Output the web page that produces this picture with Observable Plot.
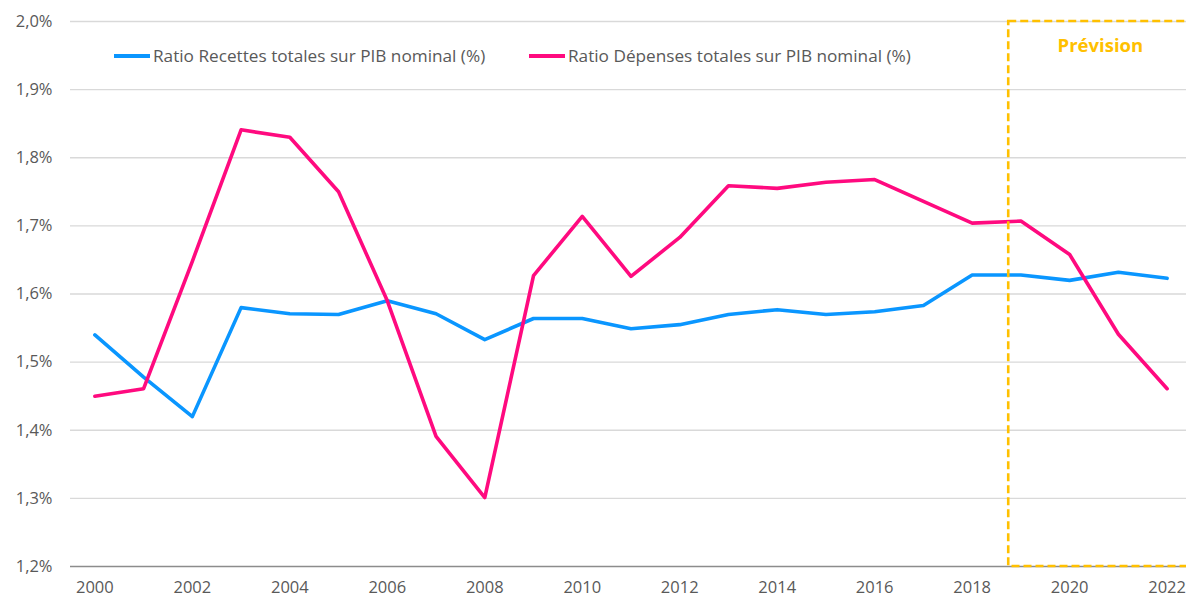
<!DOCTYPE html>
<html>
<head>
<meta charset="utf-8">
<script src="https://cdn.jsdelivr.net/npm/d3@7"></script>
<script src="https://cdn.jsdelivr.net/npm/@observablehq/plot@0.6"></script>
<style>
  html, body { margin: 0; padding: 0; background: #fff; overflow: hidden; }
  #wrap { position: relative; width: 1186px; height: 599px; overflow: hidden; }
  .leg { position: absolute; top: 44px; font-family: "Open Sans", sans-serif; font-size: 17.2px; color: #595959; display: flex; align-items: center; white-space: nowrap; }
  .leg span.sw { display: inline-block; width: 36px; height: 4px; margin-right: 3px; }
</style>
</head>
<body>
<div id="wrap"></div>
<script>
const years = [2000,2001,2002,2003,2004,2005,2006,2007,2008,2009,2010,2011,2012,2013,2014,2015,2016,2017,2018,2019,2020,2021,2022];
const recettes = [1.540,1.478,1.420,1.580,1.571,1.570,1.590,1.571,1.533,1.564,1.564,1.549,1.555,1.570,1.577,1.570,1.574,1.583,1.628,1.628,1.620,1.632,1.623];
const depenses = [1.450,1.461,1.648,1.841,1.830,1.750,1.590,1.391,1.301,1.627,1.714,1.626,1.683,1.759,1.755,1.764,1.768,1.736,1.704,1.707,1.658,1.541,1.461];
const seriesNames = ["Ratio Recettes totales sur PIB nominal (%)", "Ratio Dépenses totales sur PIB nominal (%)"];
const seriesColors = ["#0A96FF", "#FF0A7F"];
const yTicks = [1.2,1.3,1.4,1.5,1.6,1.7,1.8,1.9,2.0];
const xTicks = [2000,2002,2004,2006,2008,2010,2012,2014,2016,2018,2020,2022];
const forecastStart = 2018.75;
const forecastEnd = 2023;
const forecastLabel = "Prévision";
const gold = "#FFC000";

const rows = [];
years.forEach((y, i) => {
  rows.push({year: y, value: recettes[i], s: seriesNames[0]});
  rows.push({year: y, value: depenses[i], s: seriesNames[1]});
});

const fmtY = d => d.toFixed(1).replace(".", ",") + "%";

const chart = Plot.plot({
  width: 1186,
  height: 599,
  marginTop: 21,
  marginBottom: 33,
  marginLeft: 70,
  marginRight: 0,
  style: {fontFamily: "'Open Sans', sans-serif", fontSize: "16.5px", color: "#595959", background: "#fff"},
  x: {domain: [1999.5, 2022.5], range: [70, 1191], ticks: xTicks, tickFormat: d => String(d), tickSize: 0, tickPadding: 15, label: null},
  y: {domain: [1.2, 2.0], range: [566, 21], ticks: yTicks, tickFormat: fmtY, tickSize: 0, tickPadding: 18, label: null},
  color: {domain: seriesNames, range: seriesColors},
  marks: [
    Plot.gridY(yTicks.filter(t => t > 1.2), {stroke: "#d9d9d9", strokeOpacity: 1, strokeWidth: 1.3}),
    Plot.ruleY([1.2], {stroke: "#8c8c8c", strokeWidth: 1.3}),
    Plot.line(rows, {x: "year", y: "value", z: "s", stroke: "s", strokeWidth: 3.6, curve: "linear"}),
    Plot.rect([{x1: forecastStart, x2: forecastEnd, y1: 1.2, y2: 2.0}], {x1: "x1", x2: "x2", y1: "y1", y2: "y2", fill: "none", stroke: gold, strokeWidth: 2.6, strokeDasharray: "8,4"}),
    Plot.text([{x: 2020.63, y: 1.964, t: forecastLabel}], {x: "x", y: "y", text: "t", fill: gold, fontWeight: "bold", fontSize: 18.5})
  ]
});

const wrap = document.getElementById("wrap");
wrap.appendChild(chart);

const legLeft = [114, 529];
seriesNames.forEach((n, i) => {
  const d = document.createElement("div");
  d.className = "leg";
  d.style.left = legLeft[i] + "px";
  const sw = document.createElement("span");
  sw.className = "sw";
  sw.style.background = seriesColors[i];
  d.appendChild(sw);
  d.appendChild(document.createTextNode(n));
  wrap.appendChild(d);
});
</script>
</body>
</html>
